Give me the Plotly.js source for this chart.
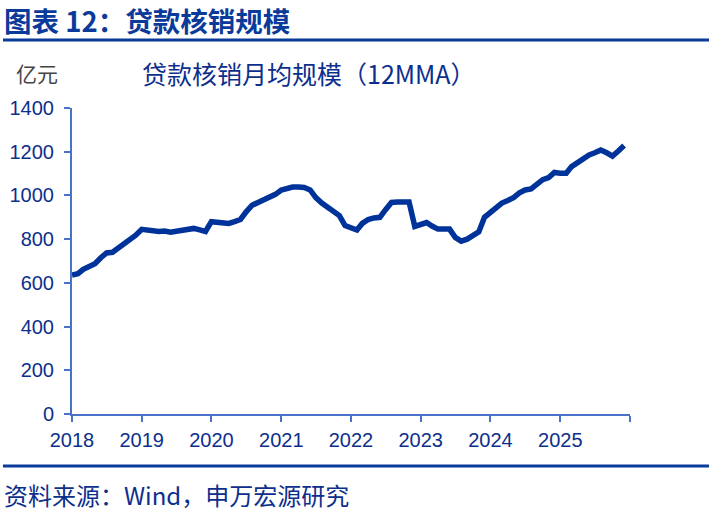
<!DOCTYPE html>
<html>
<head>
<meta charset="utf-8">
<script src="https://cdn.plot.ly/plotly-3.0.1.min.js"></script>
<style>
html,body{margin:0;padding:0;background:#fff;}
#chart{width:712px;height:514px;}
</style>
</head>
<body>
<div id="chart"></div>
<script>
// Monthly data, Jan 2018 - Dec 2025 (亿元)
const startYear = 2018;
const values = [
  636, 642, 662, 678, 688, 715, 737, 740, 758, 776, 795, 818,      // 2018
  845, 840, 835, 835, 837, 832, 836, 842, 848, 849, 842, 835,      // 2019
  880, 876, 878, 872, 880, 890, 925, 955, 968, 978, 990, 1005,     // 2020
  1025, 1032, 1038, 1038, 1036, 1025, 990, 965, 948, 928, 908, 862, // 2021
  855, 842, 872, 890, 897, 900, 935, 968, 970, 970, 970, 858,      // 2022
  865, 876, 860, 846, 846, 846, 808, 791, 800, 818, 833, 900,      // 2023
  924, 945, 965, 977, 990, 1012, 1025, 1030, 1052, 1072, 1082, 1105, // 2024
  1102, 1102, 1132, 1150, 1160, 1185, 1195, 1208, 1195, 1180, 1203, 1228 // 2025
];
const tickYears = [2018, 2019, 2020, 2021, 2022, 2023, 2024, 2025, 2026];
const tickLabels = ['2018', '2019', '2020', '2021', '2022', '2023', '2024', '2025', ''];
const yTicks = [0, 200, 400, 600, 800, 1000, 1200, 1400];

const dates = values.map((v, i) => {
  const y = startYear + Math.floor(i / 12);
  const m = (i % 12) + 1;
  return y + '-' + String(m).padStart(2, '0') + '-01';
});

const textBlue = '#0d2f8c';
const axisBlue = '#4a72c8';
const font = '"Liberation Sans", Arial, "Noto Sans CJK SC", sans-serif';
const cjk = '"Noto Sans CJK SC", sans-serif';

const trace = {
  x: dates, y: values, type: 'scatter', mode: 'lines',
  line: {color: '#003399', width: 5.5, shape: 'linear'},
  hoverinfo: 'skip'
};

const layout = {
  width: 712, height: 514,
  margin: {l: 72, r: 82, t: 108, b: 100},
  paper_bgcolor: '#fff', plot_bgcolor: '#fff',
  showlegend: false,
  font: {family: font, color: textBlue, size: 20},
  xaxis: {
    type: 'date',
    range: ['2018-01-01', '2026-01-01'],
    tickvals: tickYears.map(y => y + '-01-01'),
    ticktext: tickLabels,
    showgrid: false, zeroline: false,
    showline: true, linecolor: axisBlue, linewidth: 2,
    ticks: 'outside', ticklen: 6, tickwidth: 2, tickcolor: axisBlue,
    tickfont: {family: font, size: 20, color: textBlue},
    ticklabelstandoff: 1
  },
  yaxis: {
    range: [0, 1400],
    tickvals: yTicks,
    showgrid: false, zeroline: false,
    showline: true, linecolor: axisBlue, linewidth: 2,
    ticks: 'outside', ticklen: 6, tickwidth: 2, tickcolor: axisBlue,
    tickfont: {family: font, size: 20, color: textBlue},
    ticklabelstandoff: 6
  },
  shapes: [
    {type: 'line', xref: 'paper', yref: 'paper',
     x0: -0.1237, x1: 1.1416, y0: 1.2222, y1: 1.2222, line: {color: '#0a3a9a', width: 3}},
    {type: 'line', xref: 'paper', yref: 'paper',
     x0: -0.1237, x1: 1.1416, y0: -0.1699, y1: -0.1699, line: {color: '#0a3a9a', width: 3}}
  ],
  annotations: [
    {text: '<b>图表 12：贷款核销规模</b>', xref: 'paper', yref: 'paper',
     x: -0.125, y: 1.288, xanchor: 'left', yanchor: 'middle', showarrow: false,
     font: {family: cjk, size: 27.5, color: '#0a3a9a'}},
    {text: '亿元', xref: 'paper', yref: 'paper',
     x: -0.104, y: 1.115, xanchor: 'left', yanchor: 'middle', showarrow: false,
     font: {family: cjk, size: 21, color: '#444'}},
    {text: '贷款核销月均规模（12MMA）', xref: 'paper', yref: 'paper',
     x: 0.425, y: 1.114, xanchor: 'center', yanchor: 'middle', showarrow: false,
     font: {family: cjk, size: 25, color: textBlue}},
    {text: '资料来源：Wind，申万宏源研究', xref: 'paper', yref: 'paper',
     x: -0.125, y: -0.262, xanchor: 'left', yanchor: 'middle', showarrow: false,
     font: {family: cjk, size: 24, color: textBlue}}
  ]
};

Plotly.newPlot('chart', [trace], layout, {displayModeBar: false, staticPlot: true});
</script>
</body>
</html>
